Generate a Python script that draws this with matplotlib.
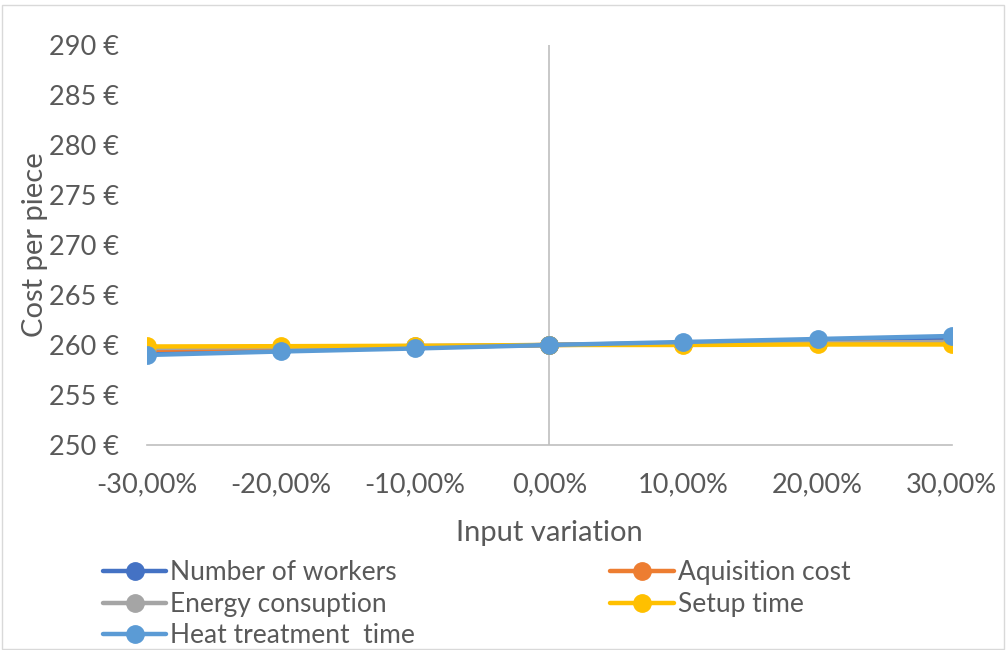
import matplotlib.pyplot as plt
from matplotlib.patches import Rectangle

# data
variation = [-0.30, -0.20, -0.10, 0.00, 0.10, 0.20, 0.30]
x_labels = ['-30,00%', '-20,00%', '-10,00%', '0,00%', '10,00%', '20,00%', '30,00%']
number_of_workers = [259.3, 259.5, 259.8, 260.0, 260.2, 260.4, 260.6]
aquisition_cost = [259.5, 259.7, 259.8, 260.0, 260.1, 260.2, 260.3]
energy_consumption = [259.7, 259.8, 259.9, 260.0, 260.1, 260.2, 260.3]
setup_time = [259.85, 259.88, 259.92, 260.0, 260.0, 260.05, 260.05]
heat_treatment_time = [259.0, 259.35, 259.65, 260.0, 260.3, 260.6, 260.9]
y_ticks = [250, 255, 260, 265, 270, 275, 280, 285, 290]

series = [
    ('Number of workers', number_of_workers, '#4472C4'),
    ('Aquisition cost', aquisition_cost, '#ED7D31'),
    ('Energy consuption', energy_consumption, '#A5A5A5'),
    ('Setup time', setup_time, '#FFC000'),
    ('Heat treatment  time', heat_treatment_time, '#5B9BD5'),
]

plt.rcParams['font.family'] = ['Lato', 'DejaVu Sans']
text_color = '#595959'

fig = plt.figure(figsize=(10.06, 6.5), dpi=100)
ax = fig.add_axes([0.146, 0.3154, 0.8, 0.6154])

handles = {}
for name, values, color in series:
    line, = ax.plot(variation, values, color=color, linewidth=3.2, marker='o',
                    markersize=12.5, label=name, solid_capstyle='round')
    handles[name] = line

ax.set_xlim(-0.30, 0.30)
ax.set_ylim(250, 290)
ax.set_yticks(y_ticks)
ax.set_yticklabels([f'{v} €' for v in y_ticks])
ax.set_xticks(variation)
ax.set_xticklabels(x_labels)
ax.tick_params(axis='both', length=0, labelsize=19.5, colors=text_color)
ax.tick_params(axis='x', pad=20)
ax.tick_params(axis='y', pad=20)

for side in ['top', 'right', 'left']:
    ax.spines[side].set_visible(False)
ax.spines['bottom'].set_color('#BFBFBF')
ax.spines['bottom'].set_linewidth(1.2)
ax.axvline(0, color='#BFBFBF', linewidth=1.2, zorder=0)

ax.set_xlabel('Input variation', fontsize=21, color=text_color, labelpad=16)
ax.set_ylabel('Cost per piece', fontsize=21, color=text_color, labelpad=1)

order = ['Number of workers', 'Energy consuption', 'Heat treatment  time',
         'Aquisition cost', 'Setup time']
fig.legend([handles[n] for n in order], order, ncol=2, frameon=False,
           loc='lower left', bbox_to_anchor=(0.084, -0.026), fontsize=19,
           labelcolor=text_color, handlelength=2.4, handletextpad=0.15,
           columnspacing=7.4, labelspacing=0.25, borderaxespad=0.3)

fig.patches.append(Rectangle((0.002, 0.002), 0.996, 0.99, transform=fig.transFigure,
                             fill=False, edgecolor='#D9D9D9', linewidth=1))

fig.savefig('out.png', dpi=100, facecolor='white')
